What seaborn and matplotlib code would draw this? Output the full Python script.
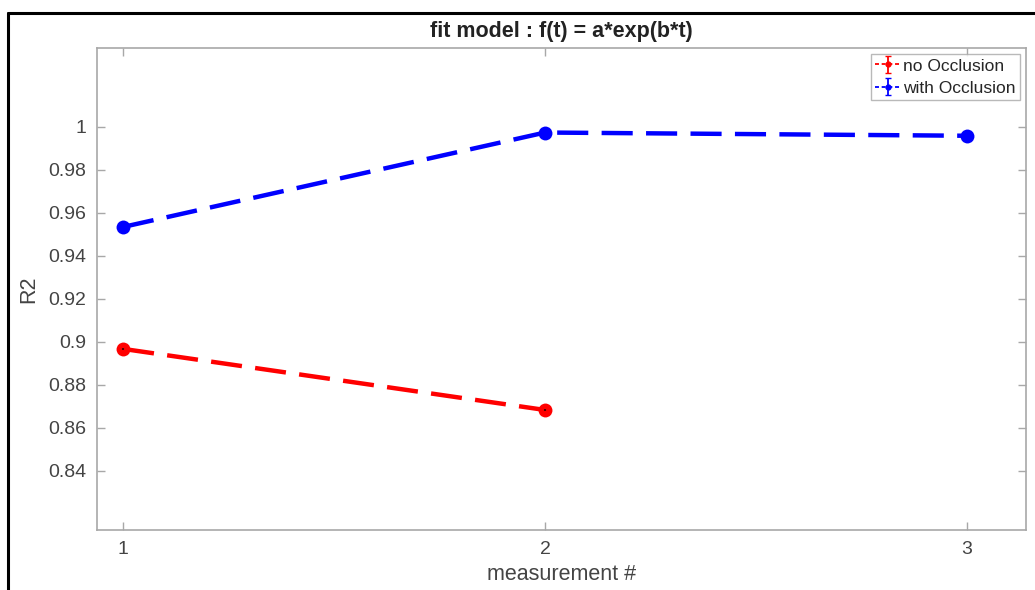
import numpy as np
import pandas as pd
import matplotlib
matplotlib.use("Agg")
import matplotlib.pyplot as plt
import seaborn as sns

# R2 of the exponential fit per measurement
measurement_no_occ = [1, 2]
r2_no_occ = [0.8966, 0.8682]
measurement_occ = [1, 2, 3]
r2_occ = [0.9533, 0.9972, 0.9957]
series_names = ["no Occlusion", "with Occlusion"]
series_colors = ["#ff0000", "#0000ff"]
x_ticks = [1, 2, 3]
y_ticks = [0.84, 0.86, 0.88, 0.90, 0.92, 0.94, 0.96, 0.98, 1.0]
y_tick_labels = ["0.84", "0.86", "0.88", "0.9", "0.92", "0.94", "0.96", "0.98", "1"]

df = pd.concat([
    pd.DataFrame({"measurement": measurement_no_occ, "R2": r2_no_occ, "series": series_names[0]}),
    pd.DataFrame({"measurement": measurement_occ, "R2": r2_occ, "series": series_names[1]}),
], ignore_index=True)

sns.set_style("white")
plt.rcParams["font.family"] = ["Liberation Sans", "DejaVu Sans"]

fig = plt.figure(figsize=(10.35, 5.9), dpi=100)
ax = fig.add_axes([97 / 1035, 1 - 530 / 590, (1026 - 97) / 1035, (530 - 48) / 590])

sns.lineplot(
    data=df, x="measurement", y="R2", hue="series",
    palette=dict(zip(series_names, series_colors)),
    style="series", dashes={n: (7, 3.0) for n in series_names},
    markers={n: "o" for n in series_names}, markersize=10, markeredgewidth=0,
    linewidth=3.2, ax=ax, legend=False,
)

# tiny error bars at each point (dark centre mark)
ax.errorbar(measurement_no_occ, r2_no_occ, yerr=0.0004, fmt="none",
            ecolor="#550000", elinewidth=1.5, capsize=0, zorder=5)

# legend entries drawn as error-bar glyphs
handles = []
for name, col in zip(series_names, series_colors):
    h = ax.errorbar([np.nan], [np.nan], yerr=[0.1], fmt="--o", color=col,
                    ms=3.5, lw=1.3, capsize=2.5, dashes=(2.2, 1.5), label=name)
    handles.append(h)
leg = ax.legend(handles=handles, labels=series_names, loc="upper right",
                fontsize=12.5, frameon=True, fancybox=False, borderpad=0.25,
                handlelength=1.5, handletextpad=0.1, labelspacing=0.4,
                borderaxespad=0.35)
leg.get_frame().set_edgecolor("#a8a8a8")
leg.get_frame().set_linewidth(1.0)

ax.set_xlim(0.938, 3.14)
ax.set_ylim(0.8124, 1.0365)
ax.set_xticks(x_ticks)
ax.set_xticklabels([str(t) for t in x_ticks])
ax.set_yticks(y_ticks)
ax.set_yticklabels(y_tick_labels)

for s in ax.spines.values():
    s.set_visible(True)
    s.set_color("#a8a8a8")
    s.set_linewidth(1.2)
ax.tick_params(direction="in", length=6, width=1.0, color="#a8a8a8",
               labelsize=14, labelcolor="#444444", top=True, right=True,
               left=True, bottom=True, pad=8)

ax.set_title("fit model : f(t) = a*exp(b*t)", fontsize=15.5, fontweight="bold",
             color="#222222", pad=8)
ax.set_xlabel("measurement #", fontsize=15.5, color="#444444", labelpad=4)
ax.set_ylabel("R2", fontsize=15.5, color="#444444", labelpad=6)

# outer frame lines (top and left)
fig.add_artist(plt.Line2D([8 / 1035, 1.0], [1 - 13 / 590, 1 - 13 / 590],
                          transform=fig.transFigure, color="black", lw=2.2))
fig.add_artist(plt.Line2D([8 / 1035, 8 / 1035], [0.0, 1 - 13 / 590],
                          transform=fig.transFigure, color="black", lw=2.2))

fig.savefig("out.png", dpi=100)
